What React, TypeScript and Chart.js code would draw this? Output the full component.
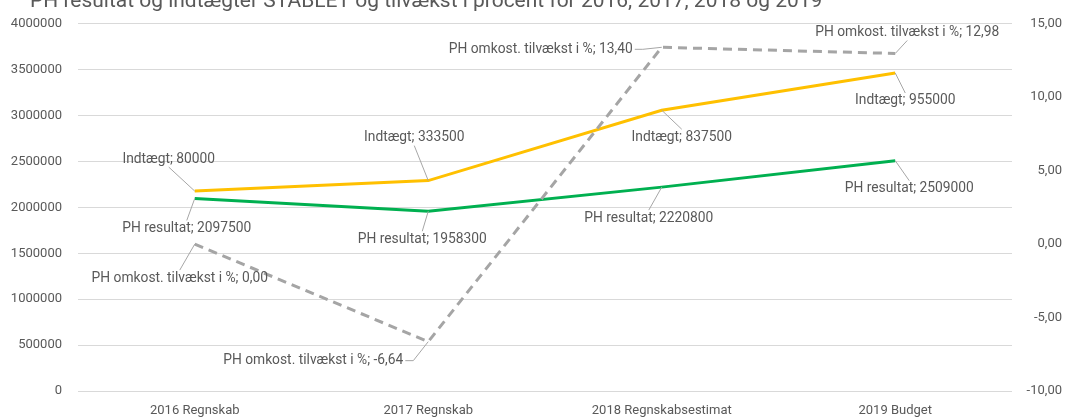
import React, { useEffect, useRef } from 'react';
import { Chart, registerables } from 'chart.js';

Chart.register(...registerables);

const TITLE = 'PH resultat og indtægter STABLET og tilvækst i procent for 2016, 2017, 2018 og 2019';
const categories = ['2016 Regnskab', '2017 Regnskab', '2018 Regnskabsestimat', '2019 Budget'];
const phResultat = [2097500, 1958300, 2220800, 2509000];
const indtaegt = [80000, 333500, 837500, 955000];
const tilvaekst = [0.0, -6.64, 13.4, 12.98];
const leftAxis = { min: 0, max: 4000000, step: 500000 };
const rightAxis = { min: -10, max: 15, step: 5 };

// label text-centre offsets relative to their point (style only)
const labelOffsets: Record<string, [number, number][]> = {
  res: [[-8, 30], [-6, 28], [-13, 31], [14, 28]],
  ind: [[-26, -32], [-14, -43], [20, 27], [10, 28]],
  pct: [[-15, 34], [-115, 19], [-121, 2], [12, -21]],
};

const TEXT = '#595959';
const FONT = 'Roboto';

const fmtPct = (v: number) => v.toFixed(2).replace('.', ',');

const titlePlugin = {
  id: 'cutTitle',
  afterDraw(chart: any) {
    const ctx = chart.ctx;
    ctx.save();
    let size = 20;
    ctx.font = `${size}px ${FONT}`;
    const w = ctx.measureText(TITLE).width;
    size = size * 793 / w;
    ctx.font = `${size}px ${FONT}`;
    ctx.fillStyle = TEXT;
    ctx.textBaseline = 'alphabetic';
    ctx.textAlign = 'left';
    ctx.fillText(TITLE, 30, 7);
    ctx.restore();
  },
};

const labelPlugin = {
  id: 'leaderLabels',
  afterDatasetsDraw(chart: any) {
    const ctx = chart.ctx;
    const keys = ['res', 'ind', 'pct'];
    const names = ['PH resultat', 'Indtægt', 'PH omkost. tilvækst i %'];
    const values = [phResultat.map(String), indtaegt.map(String), tilvaekst.map(fmtPct)];
    ctx.save();
    ctx.font = `13.8px ${FONT}`;
    ctx.textAlign = 'center';
    ctx.textBaseline = 'middle';
    for (let d = 0; d < 3; d++) {
      const meta = chart.getDatasetMeta(d);
      meta.data.forEach((pt: any, i: number) => {
        const [dx, dy] = labelOffsets[keys[d]][i];
        const text = `${names[d]}; ${values[d][i]}`;
        const cx = pt.x + dx;
        const cy = pt.y + dy;
        const hw = ctx.measureText(text).width / 2 + 2;
        const hh = 8;
        const anchors: [number, number][] = [
          [cx, cy - hh], [cx, cy + hh], [cx - hw, cy], [cx + hw, cy],
        ];
        let best = anchors[0];
        let bd = Infinity;
        for (const a of anchors) {
          const dd = Math.hypot(a[0] - pt.x, a[1] - pt.y);
          if (dd < bd) { bd = dd; best = a; }
        }
        ctx.strokeStyle = '#a6a6a6';
        ctx.lineWidth = 1;
        ctx.beginPath();
        ctx.moveTo(best[0], best[1]);
        if (best === anchors[2]) ctx.lineTo(best[0] - 8, best[1]);
        if (best === anchors[3]) ctx.lineTo(best[0] + 8, best[1]);
        ctx.lineTo(pt.x, pt.y);
        ctx.stroke();
        ctx.fillStyle = TEXT;
        ctx.fillText(text, cx, cy);
      });
    }
    ctx.restore();
  },
};

export default function App() {
  const ref = useRef<HTMLCanvasElement>(null);
  useEffect(() => {
    const chart = new Chart(ref.current as HTMLCanvasElement, {
      type: 'line',
      data: {
        labels: categories,
        datasets: [
          {
            label: 'PH resultat',
            data: phResultat,
            borderColor: '#00B050',
            backgroundColor: '#00B050',
            borderWidth: 3,
            pointRadius: 0,
            tension: 0,
            yAxisID: 'y',
            stack: 'a',
            fill: false,
            order: 2,
          },
          {
            label: 'Indtægt',
            data: indtaegt,
            borderColor: '#FFC000',
            backgroundColor: '#FFC000',
            borderWidth: 3,
            pointRadius: 0,
            tension: 0,
            yAxisID: 'y',
            stack: 'a',
            fill: false,
            order: 3,
          },
          {
            label: 'PH omkost. tilvækst i %',
            data: tilvaekst,
            borderColor: '#A5A5A5',
            backgroundColor: '#A5A5A5',
            borderWidth: 3,
            borderDash: [9, 6],
            pointRadius: 0,
            tension: 0,
            yAxisID: 'y1',
            fill: false,
            order: 1,
          },
        ],
      },
      options: {
        animation: false,
        responsive: true,
        maintainAspectRatio: false,
        layout: { padding: { top: 18, right: 4, left: 0, bottom: 0 } },
        plugins: { legend: { display: false }, title: { display: false }, tooltip: { enabled: false } },
        scales: {
          x: {
            offset: true,
            grid: { display: false, drawTicks: false },
            border: { display: false },
            ticks: { color: TEXT, font: { family: FONT, size: 13 }, padding: 12, maxRotation: 0 },
            afterFit: (s: any) => { s.height = 28; },
          },
          y: {
            position: 'left',
            stacked: true,
            min: leftAxis.min,
            max: leftAxis.max,
            border: { display: false },
            grid: { color: '#d9d9d9', drawTicks: false },
            ticks: {
              stepSize: leftAxis.step,
              color: TEXT,
              font: { family: FONT, size: 13 },
              padding: 16,
              callback: (v: any) => String(v),
            },
            afterFit: (s: any) => { s.width = 78; },
          },
          y1: {
            position: 'right',
            stacked: false,
            min: rightAxis.min,
            max: rightAxis.max,
            border: { display: false },
            grid: { drawOnChartArea: false, drawTicks: false },
            ticks: {
              stepSize: rightAxis.step,
              color: TEXT,
              font: { family: FONT, size: 13 },
              crossAlign: 'far',
              padding: 8,
              callback: (v: any) => fmtPct(Number(v)),
            },
            afterFit: (s: any) => { s.width = 50; },
          },
        },
      },
      plugins: [titlePlugin, labelPlugin],
    } as any);
    return () => chart.destroy();
  }, []);
  return (
    <div style={{ position: 'absolute', left: 0, top: 0, width: 1066, height: 419 }}>
      <canvas ref={ref} />
    </div>
  );
}
